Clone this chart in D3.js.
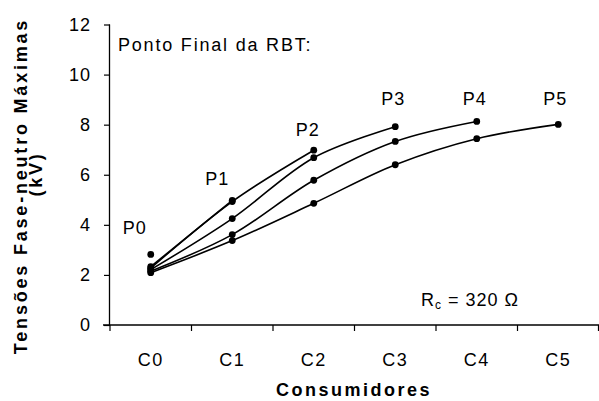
<!DOCTYPE html>
<html>
<head>
<meta charset="utf-8">
<script src="https://cdn.jsdelivr.net/npm/d3@7"></script>
<style>
  html, body { margin: 0; padding: 0; background: #fff; }
  svg { display: block; font-family: "Liberation Sans", Arial, sans-serif; }
</style>
</head>
<body>
<svg id="chart" width="599" height="401"></svg>
<script>
// ---- data ----
const categories = ["C0", "C1", "C2", "C3", "C4", "C5"];
const yTicks = [0, 2, 4, 6, 8, 10, 12];
const seriesNames = ["P0", "P1", "P2", "P3", "P4", "P5"];
const valuesP0 = [2.82];
const valuesP1 = [2.33, 4.98];
const valuesP2 = [2.27, 4.93, 6.98];
const valuesP3 = [2.21, 4.25, 6.68, 7.92];
const valuesP4 = [2.15, 3.61, 5.78, 7.33, 8.13];
const valuesP5 = [2.09, 3.37, 4.86, 6.40, 7.44, 8.01];
const labelOffsets = [[-16, -20], [-15, -15], [-6, -14], [-2, -22], [-2, -16], [-3, -19]];
const legendTitle = "Ponto Final da RBT:";
const yTitle1 = "Tensões Fase-neutro Máximas";
const yTitle2 = "(kV)";
const xTitle = "Consumidores";

const series = [valuesP0, valuesP1, valuesP2, valuesP3, valuesP4, valuesP5];

// ---- layout ----
const svg = d3.select("#chart");
const mLeft = 110, mRight = 599, mTop = 24.5, mBottom = 325;

const x = d3.scaleBand().domain(categories).range([mLeft, mRight]).padding(0);
const y = d3.scaleLinear().domain([0, 12]).range([mBottom, mTop]);
const cx = c => x(c) + x.bandwidth() / 2;

// axes
const yAxis = svg.append("g")
  .attr("transform", `translate(${mLeft},0)`)
  .call(d3.axisLeft(y).tickValues(yTicks).tickSize(6).tickPadding(13).tickFormat(d3.format("d")));
yAxis.select(".domain").attr("stroke", "#000").attr("stroke-width", 1.3).attr("d", `M-0.5,${mTop}V${mBottom}`);
yAxis.selectAll(".tick line").attr("stroke", "#000").attr("stroke-width", 1.2);
yAxis.selectAll(".tick text").attr("font-size", 18).attr("fill", "#000")
  .attr("letter-spacing", 1).attr("font-family", "Liberation Sans, Arial, sans-serif");

const xAxis = svg.append("g")
  .attr("transform", `translate(0,${mBottom})`);
xAxis.append("line").attr("x1", mLeft - 7).attr("x2", mRight).attr("y1", 0).attr("y2", 0)
  .attr("stroke", "#000").attr("stroke-width", 1.3);
const bounds = categories.map(c => x(c)).concat([mRight - 0.5]);
xAxis.selectAll("line.tk").data(bounds).join("line").attr("class", "tk")
  .attr("x1", d => d).attr("x2", d => d).attr("y1", 0).attr("y2", 6)
  .attr("stroke", "#000").attr("stroke-width", 1.2);
xAxis.selectAll("text.lbl").data(categories).join("text").attr("class", "lbl")
  .attr("x", d => cx(d)).attr("y", 41).attr("text-anchor", "middle")
  .attr("font-size", 18).attr("letter-spacing", 1.5).text(d => d);

// axis titles
svg.append("text")
  .attr("transform", `translate(354,396)`)
  .attr("text-anchor", "middle").attr("font-size", 18).attr("font-weight", "bold")
  .attr("letter-spacing", 2.5).text(xTitle);

svg.append("text")
  .attr("transform", `translate(27,186) rotate(-90)`)
  .attr("text-anchor", "middle").attr("font-size", 18).attr("font-weight", "bold")
  .attr("letter-spacing", 2.8).text(yTitle1);
svg.append("text")
  .attr("transform", `translate(42,174) rotate(-90)`)
  .attr("text-anchor", "middle").attr("font-size", 18).attr("font-weight", "bold")
  .attr("letter-spacing", 2.8).text(yTitle2);

// lines
const line = d3.line()
  .x((d, i) => cx(categories[i]))
  .y(d => y(d))
  .curve(d3.curveCatmullRom.alpha(0.5));

const g = svg.append("g");
series.forEach((vals, si) => {
  if (vals.length > 1) {
    g.append("path").datum(vals).attr("d", line)
      .attr("fill", "none").attr("stroke", "#000").attr("stroke-width", 1.6);
  }
  g.selectAll(null).data(vals).join("circle")
    .attr("cx", (d, i) => cx(categories[i])).attr("cy", d => y(d))
    .attr("r", 3.4).attr("fill", "#000");
  const last = vals.length - 1;
  g.append("text")
    .attr("x", cx(categories[last]) + labelOffsets[si][0])
    .attr("y", y(vals[last]) + labelOffsets[si][1])
    .attr("text-anchor", "middle").attr("font-size", 18).attr("letter-spacing", 1)
    .text(seriesNames[si]);
});

// legend title
svg.append("text").attr("x", 118).attr("y", 51)
  .attr("font-size", 18).attr("letter-spacing", 1.8).text(legendTitle);

// Rc annotation
const rc = svg.append("text").attr("x", 421).attr("y", 306).attr("font-size", 18).attr("letter-spacing", 1);
rc.append("tspan").text("R");
rc.append("tspan").attr("font-size", 12).attr("dy", 3).text("c");
rc.append("tspan").attr("dy", -3).text(" = 320 Ω");
</script>
</body>
</html>
